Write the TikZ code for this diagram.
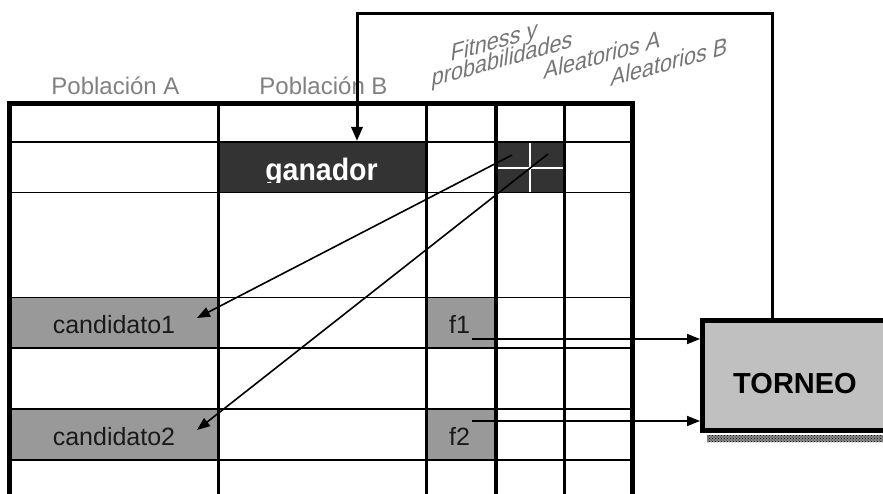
\documentclass[tikz,border=0pt]{standalone}
\usepackage{fontspec}
\setmainfont{Liberation Sans}
\usetikzlibrary{arrows.meta,patterns}
\definecolor{labelgray}{HTML}{808080}
\definecolor{rotgray}{HTML}{767676}
\definecolor{darkcell}{HTML}{333333}
\definecolor{midcell}{HTML}{999999}
\definecolor{boxgray}{HTML}{C0C0C0}
\definecolor{textdark}{HTML}{1A1A1A}
\definecolor{shadowgray}{HTML}{8A8A8A}
\begin{document}
\begin{tikzpicture}[x=1pt,y=-1pt,
  hline/.style={line width=1.8pt},
  vline/.style={line width=3.4pt},
  border/.style={line width=4.6pt},
  arr/.style={line width=1.6pt,-{Triangle[length=13pt,width=10pt]}},
  fb/.style={line width=3pt,-{Triangle[length=14pt,width=11pt]}},
  collabel/.style={text=labelgray,anchor=base,inner sep=0,font=\fontsize{24}{28}\selectfont},
  slantlabel/.style={text=rotgray,anchor=base west,inner sep=0,yslant=0.28,xslant=0.12,xscale=0.9,
    font=\fontsize{24}{28}\selectfont},
  celltext/.style={text=textdark,anchor=base,inner sep=0,font=\fontsize{25}{30}\selectfont},
  torneobox/.style={draw,line width=5pt,fill=boxgray,minimum width=185pt,minimum height=110pt,
    inner sep=0,text height=36pt,text depth=0pt,font=\fontsize{29}{34}\selectfont\bfseries}
]
\useasboundingbox (0,0) rectangle (883,494);
% cell fills
\fill[darkcell] (218.7,141.7) rectangle (426.5,192.5);
\fill[darkcell] (495.8,141.7) rectangle (564.2,192.5);
\fill[midcell] (9.5,297.5) rectangle (218.7,348);
\fill[midcell] (426.5,297.5) rectangle (495.8,348);
\fill[midcell] (9.5,409) rectangle (218.7,460);
\fill[midcell] (426.5,409) rectangle (495.8,460);
% horizontal lines
\foreach \yy in {141.7,192.5,297.5,348,409,460}
  \draw[hline] (9.5,\yy) -- (632.5,\yy);
% vertical lines
\foreach \xx in {218.7,426.5,495.8,564.2}
  \draw[vline] (\xx,103.5) -- (\xx,500);
\draw[border] (9.5,500) -- (9.5,103.5) -- (632.5,103.5) -- (632.5,500);
% white cross inside the dark cell
\draw[white,line width=1.5pt] (530,142.8) -- (530,192.5);
\draw[white,line width=1.5pt] (497.5,168) -- (562.5,168);
% column labels
\node[collabel] (popA) at (115.5,95) {Población A};
\node[collabel] (popB) at (323.5,95) {Población B};
\node[slantlabel] (fit1) at (450,62) {Fitness y};
\node[slantlabel] (fit2) at (431,87) {probabilidades};
\node[slantlabel] (alA) at (543,80) {Aleatorios A};
\node[slantlabel] (alB) at (610,87) {Aleatorios B};
% cell texts
\begin{scope}
  \clip (218.7,141.7) rectangle (426.5,183);
  \node[anchor=base,inner sep=0,text=white,xscale=0.92,font=\fontsize{31}{34}\selectfont\bfseries] (gan) at (321.5,180.5) {ganador};
\end{scope}
\node[celltext] (cand1) at (114,333) {candidato1};
\node[celltext] (cand2) at (114,445) {candidato2};
\node[celltext] (f1) at (459.5,333) {f1};
\node[celltext] (f2) at (459.5,445) {f2};
% TORNEO
\fill[shadowgray] (707,435) rectangle (883,442);
\fill[pattern=crosshatch dots,pattern color=black] (707,435) rectangle (883,442);
\node[torneobox] (torneo) at (795,375.5) {TORNEO};
% connectors
\coordinate (ra) at (512,155);
\coordinate (rb) at (548,154);
\coordinate (c1) at (197,318);
\coordinate (c2) at (197,430);
\coordinate (f1out) at (472,339);
\coordinate (f2out) at (472,421);
\coordinate (gtop) at (357,141);
\coordinate (tout) at (772,320);
\coordinate (ttop) at (772,14);
\draw[arr] (ra) -- (c1);
\draw[arr] (rb) -- (c2);
\draw[arr] (f1out) -- (torneo.west |- f1out);
\draw[arr] (f2out) -- (torneo.west |- f2out);
\draw[fb] (tout) -- (ttop) -| (gtop);
\end{tikzpicture}
\end{document}
